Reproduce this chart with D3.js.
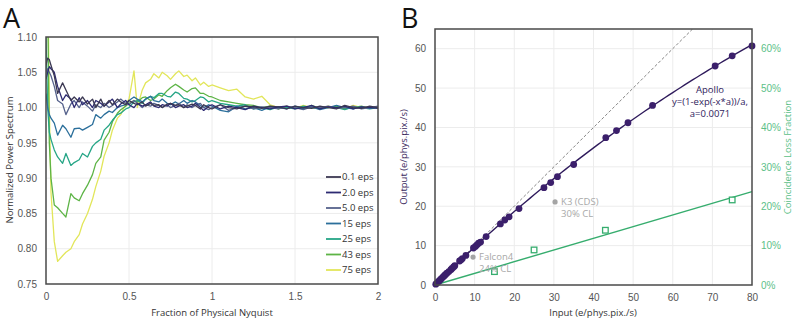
<!DOCTYPE html>
<html>
<head>
<meta charset="utf-8">
<script src="https://cdn.jsdelivr.net/npm/d3@7"></script>
<style>
  body { margin: 0; background: #fff; }
  svg { font-family: "Open Sans", sans-serif; }
  .tick text { fill: #555; font-size: 10px; }
</style>
</head>
<body>
<div class="chart"></div>
<script>
// ---- panel A data ----
var nyqX = [0, 0.01, 0.02, 0.03, 0.05, 0.07, 0.1, 0.12, 0.15, 0.17, 0.2, 0.22, 0.25, 0.28, 0.3, 0.33, 0.35, 0.38, 0.4, 0.43,
  0.45, 0.48, 0.5, 0.53, 0.55, 0.58, 0.6, 0.63, 0.65, 0.68, 0.7, 0.73, 0.75, 0.78, 0.8, 0.83, 0.85, 0.88, 0.9, 0.93,
  0.95, 0.98, 1.0, 1.05, 1.1, 1.15, 1.2, 1.25, 1.3, 1.35, 1.4, 1.45, 1.5, 1.55, 1.6, 1.65, 1.7, 1.75, 1.8, 1.85,
  1.9, 1.95, 2.0];
var doseNames = ["0.1 eps", "2.0 eps", "5.0 eps", "15 eps", "25 eps", "43 eps", "75 eps"];
var doseColors = ["#3b3852", "#2d2a72", "#56628c", "#2b6f9b", "#25a586", "#5db446", "#e2e65a"];
var eps01 = [1.06, 1.07, 1.068, 1.06, 1.045, 1.02, 1.035, 1.025, 1.01, 1.015, 1.008, 1.015, 1.005, 1.012, 1.0, 1.012, 1.002, 1.01, 1.004, 1.012,
  1.008, 1.004, 1.01, 1.006, 1.004, 1.008, 1.002, 1.006, 1.003, 1.004, 1.0, 1.005, 1.006, 1.003, 1.004, 1.0, 1.002, 1.005, 1.003, 0.998,
  1.004, 1.0, 0.998, 1.004, 1.0, 0.998, 1.002, 1.001, 0.999, 1.002, 1.001, 0.998, 1.002, 1.0, 0.999, 1.002, 1.0, 0.998, 1.003, 1.0,
  0.999, 1.002, 1.0];
var eps2 = [1.04, 1.05, 1.058, 1.055, 1.05, 1.03, 1.01, 1.018, 1.012, 1.0, 1.014, 1.004, 1.01, 1.0, 1.01, 1.006, 1.002, 1.008, 1.012, 1.0,
  1.005, 1.01, 1.004, 1.0, 1.006, 1.002, 1.004, 1.008, 1.002, 1.0, 1.004, 1.002, 1.006, 1.0, 1.002, 1.004, 1.0, 1.002, 1.006, 1.0,
  0.996, 1.002, 1.004, 0.998, 1.002, 1.0, 0.997, 1.002, 1.0, 0.998, 1.001, 1.002, 0.998, 1.0, 1.003, 0.998, 1.001, 1.0, 1.002, 0.998,
  1.001, 1.0, 0.999];
var eps5 = [1.05, 1.055, 1.05, 1.045, 1.03, 1.01, 1.005, 0.99, 1.005, 1.01, 1.0, 1.008, 1.002, 0.995, 1.004, 1.0, 1.006, 1.0, 1.003, 1.008,
  1.012, 1.006, 1.004, 1.01, 1.006, 1.0, 1.004, 1.002, 1.006, 1.003, 1.0, 1.004, 1.0, 1.003, 1.006, 1.0, 1.004, 1.0, 1.003, 1.006,
  1.0, 0.997, 1.0, 1.004, 0.996, 1.0, 1.002, 0.998, 1.001, 1.0, 0.998, 1.002, 1.0, 0.997, 1.001, 1.0, 1.002, 0.999, 1.0, 1.002,
  0.998, 1.0, 1.002];
var eps15 = [1.02, 1.0, 0.99, 0.985, 0.978, 0.961, 0.975, 0.97, 0.958, 0.97, 0.971, 0.968, 0.972, 0.976, 0.99, 0.985, 0.99, 0.995, 0.993, 1.0,
  1.002, 1.004, 1.01, 1.015, 1.012, 1.008, 1.012, 1.016, 1.01, 1.008, 1.012, 1.006, 1.004, 1.008, 1.005, 1.01, 1.006, 1.01, 1.008, 1.003,
  1.0, 1.004, 1.002, 0.996, 0.994, 1.002, 0.998, 1.0, 0.996, 1.001, 1.0, 0.998, 1.002, 0.999, 1.001, 0.997, 1.0, 1.003, 1.0, 0.998,
  1.001, 0.999, 1.001];
var eps25 = [1.1, 1.0, 0.965, 0.955, 0.94, 0.93, 0.921, 0.935, 0.918, 0.922, 0.926, 0.935, 0.93, 0.945, 0.95, 0.955, 0.968, 0.975, 0.982, 0.99,
  0.992, 0.998, 1.0, 1.008, 1.01, 1.006, 1.012, 1.016, 1.014, 1.02, 1.02, 1.016, 1.015, 1.022, 1.02, 1.013, 1.012, 1.008, 1.01, 1.015,
  1.014, 1.008, 1.01, 1.006, 1.004, 1.002, 1.004, 0.998, 1.0, 0.997, 1.001, 1.0, 0.998, 1.002, 1.0, 0.999, 1.001, 1.0, 0.997, 1.001,
  1.0, 0.998, 1.0];
var eps43 = [1.3, 1.15, 0.95, 0.9, 0.862, 0.858, 0.85, 0.845, 0.878, 0.872, 0.868, 0.878, 0.89, 0.905, 0.921, 0.93, 0.954, 0.965, 0.98, 0.992,
  0.997, 1.002, 1.006, 1.01, 1.008, 1.014, 1.015, 1.01, 1.012, 1.018, 1.016, 1.024, 1.028, 1.033, 1.03, 1.025, 1.022, 1.027, 1.028, 1.02,
  1.02, 1.016, 1.015, 1.01, 1.008, 1.006, 1.004, 1.003, 1.0, 1.002, 0.998, 1.001, 1.0, 0.998, 1.003, 0.999, 1.0, 1.002, 0.998, 1.0,
  1.002, 0.999, 1.001];
var eps75 = [1.3, 1.2, 1.0, 0.88, 0.81, 0.782, 0.79, 0.795, 0.8, 0.81, 0.82, 0.835, 0.85, 0.87, 0.888, 0.91, 0.931, 0.95, 0.968, 0.985,
  0.99, 1.005, 1.012, 1.052, 1.0, 1.025, 1.035, 1.04, 1.048, 1.042, 1.05, 1.045, 1.04, 1.048, 1.052, 1.044, 1.046, 1.038, 1.042, 1.032,
  1.036, 1.03, 1.032, 1.028, 1.024, 1.026, 1.015, 1.012, 1.016, 1.004, 1.0, 1.002, 0.999, 1.003, 1.0, 0.998, 1.002, 1.0, 0.998, 1.003,
  1.0, 1.001, 1.0];
var nyqSeries = [eps01, eps2, eps5, eps15, eps25, eps43, eps75];
var aTicksY = [0.75, 0.8, 0.85, 0.9, 0.95, 1.0, 1.05, 1.1];
var aTicksX = [0, 0.5, 1, 1.5, 2];

// ---- panel B data ----
var apolloX = [0.2, 0.5, 0.8, 1.0, 1.3, 1.6, 2.0, 2.3, 2.6, 3.0, 3.5, 4.0, 4.3, 4.7, 5.0, 6.2, 6.6, 6.9, 7.8, 9.7,
  10.2, 10.6, 11.0, 11.5, 12.9, 16.5, 17.6, 18.7, 21.2, 27.5, 29.2, 30.9, 35.0, 43.1, 45.8, 48.7, 54.9, 70.7, 75.0, 80.0];
var apolloY = [0.2, 0.5, 0.8, 1.0, 1.3, 1.6, 2.0, 2.3, 2.6, 3.0, 3.4, 3.9, 4.2, 4.6, 4.9, 6.1, 6.4, 6.7, 7.5, 9.4,
  9.8, 10.2, 10.6, 10.9, 12.3, 15.5, 16.5, 17.3, 19.4, 24.7, 26.0, 27.5, 30.6, 37.4, 39.2, 41.2, 45.6, 55.6, 58.2, 60.7];
var fitA = 0.0071;
var otherNames = ["Falcon4", "K3 (CDS)"];
var otherSub = ["24% CL", "30% CL"];
var otherX = [9.6, 30.3];
var otherY = [7.1, 21.1];
var clX = [15, 25, 43, 75];
var clY = [3.4, 8.9, 13.9, 21.6];
var clLineX = [0, 80];
var clLineY = [0, 23.7];
var bTicksX = [0, 10, 20, 30, 40, 50, 60, 70, 80];
var bTicksY = [0, 10, 20, 30, 40, 50, 60];

var svg = d3.select(".chart").append("svg").attr("width", 794).attr("height", 320);

// ================= panel A =================
var ax = d3.scaleLinear().domain([0, 2]).range([46, 378]);
var ay = d3.scaleLinear().domain([0.75, 1.1]).range([284, 37]);

svg.append("text").attr("x", 3).attr("y", 28).attr("font-size", 27).attr("fill", "#111").text("A");

var gA = svg.append("g");
gA.append("g").selectAll("line").data(aTicksY.slice(1, -1)).enter().append("line")
  .attr("x1", 46).attr("x2", 378).attr("y1", d => ay(d)).attr("y2", d => ay(d))
  .attr("stroke", "#ececec");
gA.append("g").selectAll("line").data(aTicksX.slice(1, -1)).enter().append("line")
  .attr("y1", 37).attr("y2", 284).attr("x1", d => ax(d)).attr("x2", d => ax(d))
  .attr("stroke", "#ececec");

svg.append("clipPath").attr("id", "clipA").append("rect")
  .attr("x", 46).attr("y", 37).attr("width", 332).attr("height", 247);

var lineA = d3.line().x((d, i) => ax(nyqX[i])).y(d => ay(d));
gA.append("g").attr("clip-path", "url(#clipA)").selectAll("path")
  .data(nyqSeries.slice().reverse()).enter().append("path")
  .attr("d", lineA).attr("fill", "none")
  .attr("stroke", (d, i) => doseColors[doseColors.length - 1 - i])
  .attr("stroke-width", 1.3).attr("stroke-linejoin", "round");

gA.append("g").attr("transform", "translate(0,284)")
  .call(d3.axisBottom(ax).tickValues(aTicksX).tickFormat(d3.format("")).tickSize(0).tickPadding(9))
  .call(g => g.select(".domain").remove());
gA.append("g").attr("transform", "translate(46,0)")
  .call(d3.axisLeft(ay).tickValues(aTicksY).tickFormat(d3.format(".2f")).tickSize(0).tickPadding(9))
  .call(g => g.select(".domain").remove());

gA.append("rect").attr("x", 46).attr("y", 37).attr("width", 332).attr("height", 247)
  .attr("fill", "none").attr("stroke", "#4a4a4a").attr("stroke-width", 1.5);

svg.append("text").attr("x", 212).attr("y", 316).attr("text-anchor", "middle")
  .attr("font-size", 9.5).attr("fill", "#333").text("Fraction of Physical Nyquist");
svg.append("text").attr("transform", "translate(13,160) rotate(-90)").attr("text-anchor", "middle")
  .attr("font-size", 9.5).attr("fill", "#333").text("Normalized Power Spectrum");

var leg = gA.append("g").selectAll("g").data(doseNames).enter().append("g")
  .attr("transform", (d, i) => "translate(326," + (177 + i * 15.5) + ")");
leg.append("line").attr("x1", 0).attr("x2", 15).attr("stroke", (d, i) => doseColors[i]).attr("stroke-width", 1.8);
leg.append("text").attr("x", 16).attr("dy", "0.35em").attr("font-size", 9.5).attr("fill", "#333").text(d => d);

// ================= panel B =================
var bx = d3.scaleLinear().domain([0, 80]).range([435, 752]);
var by = d3.scaleLinear().domain([0, 65]).range([285, 29]);
var byR = d3.scaleLinear().domain([0, 65]).range([285, 29]);

svg.append("text").attr("x", 401).attr("y", 28).attr("font-size", 27).attr("fill", "#111").text("B");

var gB = svg.append("g");
gB.append("g").selectAll("line").data(bTicksY.slice(1)).enter().append("line")
  .attr("x1", 435).attr("x2", 752).attr("y1", d => by(d)).attr("y2", d => by(d)).attr("stroke", "#ececec");
gB.append("g").selectAll("line").data(bTicksX.slice(1, -1)).enter().append("line")
  .attr("y1", 29).attr("y2", 285).attr("x1", d => bx(d)).attr("x2", d => bx(d)).attr("stroke", "#ececec");

svg.append("clipPath").attr("id", "clipB").append("rect")
  .attr("x", 435).attr("y", 29).attr("width", 317).attr("height", 256);

// y = x reference
gB.append("line").attr("clip-path", "url(#clipB)")
  .attr("x1", bx(0)).attr("y1", by(0)).attr("x2", bx(65)).attr("y2", by(65))
  .attr("stroke", "#777").attr("stroke-width", 0.9).attr("stroke-dasharray", "3,2");

// coincidence loss line
gB.append("path").datum(clLineX)
  .attr("d", d3.line().x(d => bx(d)).y((d, i) => byR(clLineY[i])))
  .attr("fill", "none").attr("stroke", "#36ad6e").attr("stroke-width", 1.4);

// Apollo fit, y=(1-exp(-x*a))/a
var fitX = d3.range(0, 80.01, 1);
gB.append("path").datum(fitX)
  .attr("d", d3.line().x(d => bx(d)).y(d => by((1 - Math.exp(-d * fitA)) / fitA)))
  .attr("fill", "none").attr("stroke", "#2f1b5c").attr("stroke-width", 1.4);

gB.append("g").selectAll("circle").data(apolloX).enter().append("circle")
  .attr("cx", d => bx(d)).attr("cy", (d, i) => by(apolloY[i])).attr("r", 3.4).attr("fill", "#3b1f6b");

gB.append("g").selectAll("rect").data(clX).enter().append("rect")
  .attr("x", d => bx(d) - 2.8).attr("y", (d, i) => byR(clY[i]) - 2.8)
  .attr("width", 5.6).attr("height", 5.6)
  .attr("fill", "#fff").attr("stroke", "#36ad6e").attr("stroke-width", 1.3);

var oth = gB.append("g").selectAll("g").data(otherX).enter().append("g")
  .attr("transform", (d, i) => "translate(" + bx(d) + "," + by(otherY[i]) + ")");
oth.append("circle").attr("r", 2.6).attr("fill", "#a4a4a4");
oth.append("text").attr("x", 6).attr("dy", "0.35em").attr("font-size", 9.5).attr("fill", "#a8a8a8")
  .text((d, i) => otherNames[i]);
oth.append("text").attr("x", 6).attr("dy", "1.6em").attr("font-size", 9.5).attr("fill", "#a8a8a8")
  .text((d, i) => otherSub[i]);

var apLbl = ["Apollo", "y=(1-exp(-x*a))/a,", "a=0.0071"];
gB.append("g").selectAll("text").data(apLbl).enter().append("text")
  .attr("x", 710).attr("y", (d, i) => 93 + i * 12).attr("text-anchor", "middle")
  .attr("font-size", 9.5).attr("fill", "#2f1b5c").text(d => d);

gB.append("g").attr("transform", "translate(0,285)")
  .call(d3.axisBottom(bx).tickValues(bTicksX).tickSize(0).tickPadding(9))
  .call(g => g.select(".domain").remove());
gB.append("g").attr("transform", "translate(435,0)")
  .call(d3.axisLeft(by).tickValues(bTicksY).tickSize(0).tickPadding(9))
  .call(g => g.select(".domain").remove());
gB.append("g").attr("transform", "translate(752,0)")
  .call(d3.axisRight(byR).tickValues(bTicksY).tickFormat(d => d + "%").tickSize(0).tickPadding(9))
  .call(g => g.select(".domain").remove())
  .call(g => g.selectAll("text").style("fill", "#5cbf88"));

gB.append("rect").attr("x", 435).attr("y", 29).attr("width", 317).attr("height", 256)
  .attr("fill", "none").attr("stroke", "#4a4a4a").attr("stroke-width", 1.5);

svg.append("text").attr("x", 593).attr("y", 316).attr("text-anchor", "middle")
  .attr("font-size", 9.5).attr("fill", "#333").text("Input (e/phys.pix./s)");
svg.append("text").attr("transform", "translate(407,157) rotate(-90)").attr("text-anchor", "middle")
  .attr("font-size", 9.5).attr("fill", "#3b2a60").text("Output (e/phys.pix./s)");
svg.append("text").attr("transform", "translate(791,157) rotate(-90)").attr("text-anchor", "middle")
  .attr("font-size", 9.5).attr("fill", "#5cbf88").text("Coincidence Loss Fraction");
</script>
</body>
</html>
